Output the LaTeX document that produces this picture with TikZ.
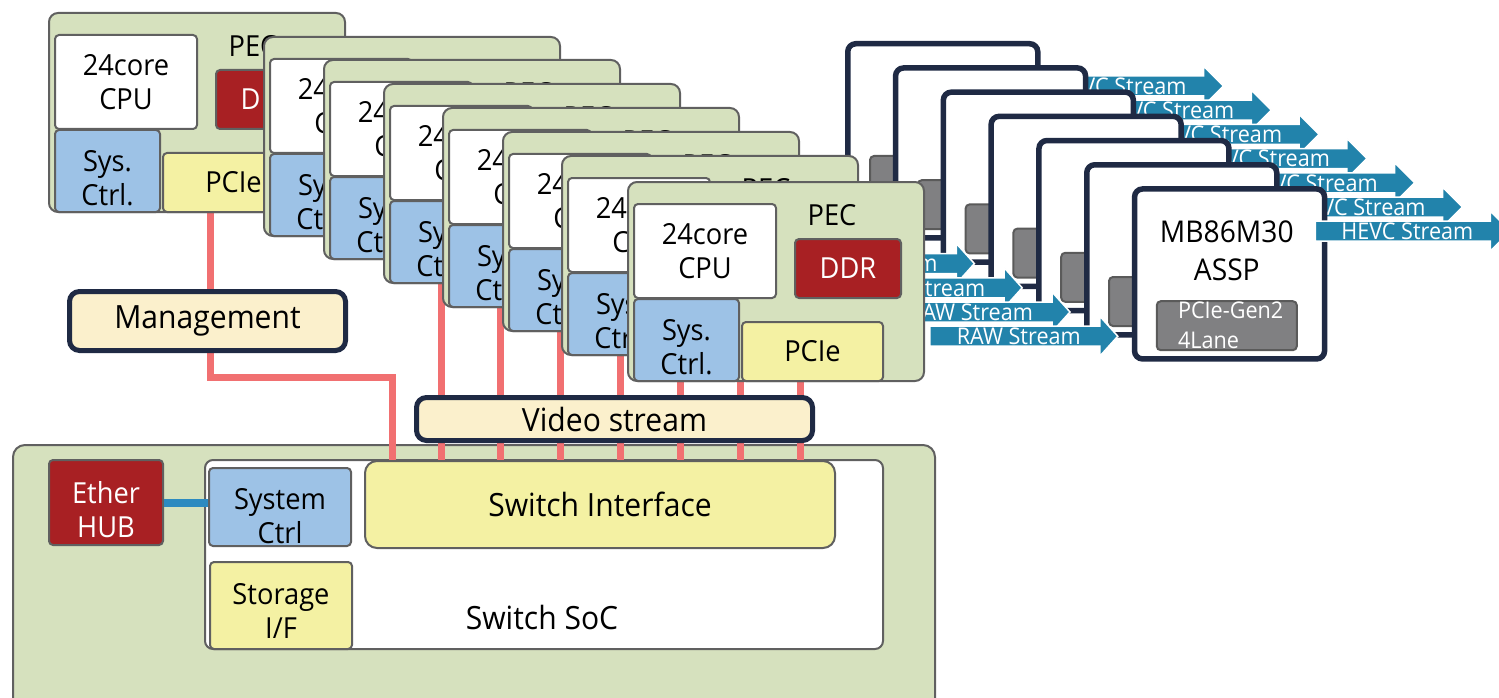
\documentclass[tikz,border=0pt]{standalone}
\usepackage{fontspec}
\setmainfont{Open Sans}[FakeStretch=0.94]
\usetikzlibrary{positioning}

\definecolor{pecgreen}{RGB}{214,225,190}
\definecolor{edgegray}{RGB}{96,96,96}
\definecolor{ddrred}{RGB}{168,32,35}
\definecolor{ctrlblue}{RGB}{157,194,230}
\definecolor{pcieyellow}{RGB}{244,241,163}
\definecolor{linkpink}{RGB}{241,112,113}
\definecolor{labelcream}{RGB}{251,240,204}
\definecolor{navy}{RGB}{31,42,68}
\definecolor{arrowblue}{RGB}{34,131,171}
\definecolor{etherblue}{RGB}{44,138,192}
\definecolor{lanegray}{RGB}{128,128,130}
\definecolor{laneedge}{RGB}{90,90,90}

\pgfdeclarelayer{soc}
\pgfdeclarelayer{wires}
\pgfsetlayers{soc,wires,main}

\tikzset{
  part/.style={draw=edgegray, line width=2pt, rounded corners=4pt, inner sep=0pt,
    anchor=north west, align=center, font=\fontsize{29}{34}\selectfont},
  board/.style={part, fill=pecgreen, minimum width=296pt, minimum height=199pt, rounded corners=9pt},
  cpubox/.style={part, fill=white, minimum width=142pt, minimum height=94pt},
  ddrbox/.style={part, fill=ddrred, text=white, minimum width=106pt, minimum height=59pt},
  sysbox/.style={part, fill=ctrlblue, minimum width=105pt, minimum height=82pt, text height=69pt},
  pciebox/.style={part, fill=pcieyellow, minimum width=141pt, minimum height=59pt},
  tag/.style={draw=navy, line width=5pt, fill=labelcream, rounded corners=10pt, inner sep=0pt,
    font=\fontsize{32}{36}\selectfont},
  link/.style={draw=linkpink, line width=7pt},
  chip/.style={draw=navy, line width=5.5pt, fill=white, rounded corners=8pt, inner sep=0pt,
    minimum width=190pt, minimum height=170pt, anchor=north west},
  lanebox/.style={part, fill=lanegray, draw=laneedge, minimum width=140pt, minimum height=49pt},
  flow/.style={fill=arrowblue, draw=white, line width=1.5pt},
  flowtxt/.style={text=white, inner sep=0pt, font=\fontsize{23}{26}\selectfont},
}

\begin{document}
\begin{tikzpicture}[x=1pt, y=-1pt]
  \useasboundingbox (0,0) rectangle (1499,698);

  % switch SoC
  \begin{pgfonlayer}{soc}
    \node (socpanel) [part, fill=pecgreen, minimum width=922pt, minimum height=266pt, rounded corners=12pt] at (12,444) {};
    \node (soc) [part, fill=white, minimum width=678pt, minimum height=189pt, rounded corners=8pt] at (204,459) {};
  \end{pgfonlayer}
  \node (hub) [part, fill=ddrred, text=white, minimum width=114pt, minimum height=85pt, text height=70pt] at (48,459) {Ether\\HUB};
  \node (sysctl) [part, fill=ctrlblue, minimum width=142pt, minimum height=78pt, text height=73pt] at (208,467) {System\\Ctrl};
  \node (sif) [part, fill=pcieyellow, minimum width=470pt, minimum height=87pt, rounded corners=12pt,
    font=\fontsize{32}{36}\selectfont] at (364,460) {Switch Interface};
  \node (stor) [part, fill=pcieyellow, minimum width=142pt, minimum height=87pt, text height=65pt] at (209,561) {Storage\\I/F};
  \node (soclbl) [font=\fontsize{32}{36}\selectfont] at (542,617) {Switch SoC};
  \draw [draw=etherblue, line width=8pt] (hub.east) -- (hub.east -| sysctl.west);

  % ASSP stack
  \foreach \k in {1,...,7} {
    \pgfmathsetmacro{\ax}{845+(\k-1)*47.8}
    \pgfmathsetmacro{\ay}{41+(\k-1)*24.2}
    \node (assp\k) [chip] at (\ax,\ay) {};
    \node (lane\k) [lanebox, below right=114pt and 24pt of assp\k.north west] {};
    \draw [flow] ([shift={(-12,35)}]assp\k.north east) -- ++(175,0) -- ++(0,-10) -- ++(20,20)
      -- ++(-20,20) -- ++(0,-10) -- ++(-175,0) -- cycle;
    \node (hevc\k) [flowtxt] at ([shift={(80,45)}]assp\k.north east) {HEVC Stream};
  }
  \node (asspname) [align=center, font=\fontsize{30}{38}\selectfont] at ([shift={(95,65)}]assp7.north west) {MB86M30\\ASSP};
  \node (lanename) [flowtxt, anchor=west, align=left, font=\fontsize{23}{30}\selectfont]
    at ([shift={(46,139)}]assp7.north west) {PCIe-Gen2\\4Lane};
  \foreach \k in {4,...,7} {
    \draw [flow] ([shift={(-202,140)}]assp\k.north west) -- ++(170,0) -- ++(0,-10) -- ++(18,20)
      -- ++(-18,20) -- ++(0,-10) -- ++(-170,0) -- cycle;
    \node (raw\k) [flowtxt] at ([shift={(-113,150)}]assp\k.north west) {RAW Stream};
  }

  % PEC boards
  \foreach \k/\bx/\by/\lx in {1/48/12/210, 2/263/36/441, 3/323/59/500, 4/383/83/560,
                              5/442/107/620, 6/502/131/680, 7/561/155/740, 8/627/181/800} {
    \node (pec\k) [board] at (\bx,\by) {};
    \node (cpu\k) [cpubox, below right=22pt and 6pt of pec\k.north west] {24core\\CPU};
    \node (ddr\k) [ddrbox, below right=57pt and 167pt of pec\k.north west] {DDR};
    \node (sys\k) [sysbox, below right=117pt and 6pt of pec\k.north west] {Sys.\\Ctrl.};
    \node (pcie\k) [pciebox, below right=140pt and 114pt of pec\k.north west] {PCIe};
    \node (peclbl\k) [font=\fontsize{29}{34}\selectfont] at ([shift={(205,34)}]pec\k.north west) {PEC};
    \begin{pgfonlayer}{wires}
      \ifnum\k=1
        \draw [link] (\lx,0 |- pcie\k.south) |- (392,377) -- (392,0 |- sif.north);
      \else
        \draw [link] (\lx,0 |- pcie\k.south) -- (\lx,0 |- sif.north);
      \fi
    \end{pgfonlayer}
  }

  \node (mgmt) [tag, minimum width=276pt, minimum height=59pt] at (207.5,321) {Management};
  \node (vstream) [tag, minimum width=396pt, minimum height=43pt] at (614.5,419) {Video stream};
\end{tikzpicture}
\end{document}
